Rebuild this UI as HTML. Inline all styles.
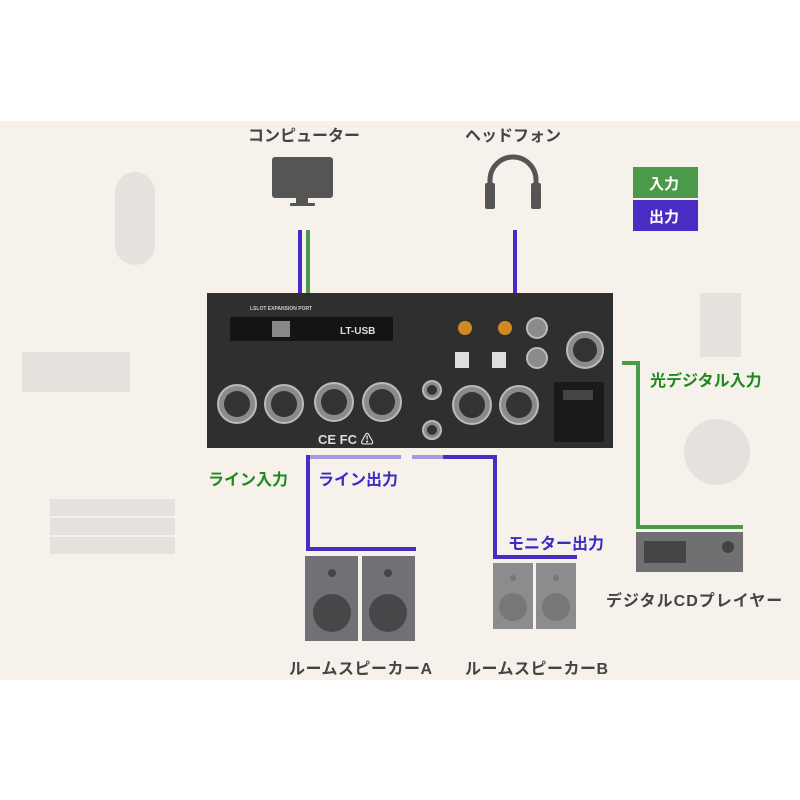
<!DOCTYPE html>
<html><head><meta charset="utf-8"><style>
body{margin:0;width:800px;height:800px;background:#fff;position:relative;overflow:hidden;font-family:"Liberation Sans","Noto Sans CJK JP",sans-serif;font-weight:bold}
.a{position:absolute}
.t{position:absolute;font-size:16px;white-space:nowrap}
</style></head><body>
<div class="a" style="left:0;top:121px;width:800px;height:559px;background:#f7f1ec"></div>
<svg class="a" style="left:0;top:0" width="800" height="800">
<rect x="115" y="172" width="40" height="93" rx="20" fill="#e6e1dd"/>
<rect x="22" y="352" width="108" height="40" fill="#e6e1dd"/>
<rect x="50" y="499" width="125" height="17" fill="#e6e1dd"/>
<rect x="50" y="518" width="125" height="17" fill="#e6e1dd"/>
<rect x="50" y="537" width="125" height="17" fill="#e6e1dd"/>
<rect x="700" y="293" width="41" height="64" fill="#e6e1dd"/>
<circle cx="717" cy="452" r="33" fill="#e6e1dd"/>
<rect x="272" y="157" width="61" height="41" rx="3" fill="#555"/>
<rect x="296" y="198" width="12" height="5" fill="#555"/>
<rect x="290" y="203" width="25" height="3" rx="1" fill="#555"/>
<path d="M490 195 V180 A23 23 0 0 1 536 180 V195" fill="none" stroke="#555" stroke-width="5"/>
<rect x="485" y="183" width="10" height="26" rx="2" fill="#555"/>
<rect x="531" y="183" width="10" height="26" rx="2" fill="#555"/>
<rect x="298" y="230" width="4" height="63" fill="#4a2cc4"/>
<rect x="306" y="230" width="4" height="63" fill="#4a9a4a"/>
<rect x="513" y="230" width="4" height="63" fill="#4a2cc4"/>
<rect x="207" y="293" width="406" height="155" fill="#2f2f30"/>
<rect x="230" y="317" width="163" height="24" fill="#141414"/>
<text x="340" y="334" fill="#ddd" font-size="10" font-family="Liberation Sans">LT-USB</text>
<rect x="272" y="321" width="18" height="16" fill="#888"/>
<text x="250" y="310" fill="#ccc" font-size="5">LSLOT EXPANSION PORT</text>
<g fill="#8b8b8b" stroke="#bbb" stroke-width="2">
<circle cx="237" cy="404" r="19"/><circle cx="284" cy="404" r="19"/>
<circle cx="334" cy="402" r="19"/><circle cx="382" cy="402" r="19"/>
<circle cx="472" cy="405" r="19"/><circle cx="519" cy="405" r="19"/>
<circle cx="585" cy="350" r="18"/>
<circle cx="537" cy="328" r="10"/><circle cx="537" cy="358" r="10"/>
<circle cx="432" cy="390" r="9"/><circle cx="432" cy="430" r="9"/>
</g>
<g fill="#333"><circle cx="237" cy="404" r="13"/><circle cx="284" cy="404" r="13"/><circle cx="334" cy="402" r="13"/><circle cx="382" cy="402" r="13"/><circle cx="472" cy="405" r="13"/><circle cx="519" cy="405" r="13"/><circle cx="585" cy="350" r="12"/><circle cx="432" cy="390" r="5"/><circle cx="432" cy="430" r="5"/></g>
<circle cx="465" cy="328" r="7" fill="#d08a20"/><circle cx="505" cy="328" r="7" fill="#d08a20"/>
<rect x="455" y="352" width="14" height="16" fill="#ddd"/><rect x="492" y="352" width="14" height="16" fill="#ddd"/>
<rect x="554" y="382" width="50" height="60" fill="#1a1a1a"/>
<rect x="563" y="390" width="30" height="10" fill="#444"/>
<text x="318" y="444" fill="#ddd" font-size="13">CE FC ⚠</text>
<rect x="307" y="455" width="94" height="4" fill="#a898e0"/>
<rect x="412" y="455" width="31" height="4" fill="#a898e0"/>
<rect x="443" y="455" width="54" height="4" fill="#4a2cc4"/>
<rect x="306" y="455" width="4" height="96" fill="#4a2cc4"/>
<rect x="306" y="547" width="110" height="4" fill="#4a2cc4"/>
<rect x="493" y="455" width="4" height="104" fill="#4a2cc4"/>
<rect x="493" y="555" width="84" height="4" fill="#4a2cc4"/>
<rect x="622" y="361" width="18" height="4" fill="#4a9a4a"/>
<rect x="636" y="361" width="4" height="168" fill="#4a9a4a"/>
<rect x="636" y="525" width="107" height="4" fill="#4a9a4a"/>
<rect x="305" y="556" width="53" height="85" fill="#707075"/><rect x="362" y="556" width="53" height="85" fill="#707075"/>
<circle cx="332" cy="573" r="4" fill="#444"/><circle cx="388" cy="573" r="4" fill="#444"/>
<circle cx="332" cy="613" r="19" fill="#474749"/><circle cx="388" cy="613" r="19" fill="#474749"/>
<rect x="493" y="563" width="40" height="66" fill="#8c8c8e"/><rect x="536" y="563" width="40" height="66" fill="#8c8c8e"/>
<circle cx="513" cy="578" r="3" fill="#777"/><circle cx="556" cy="578" r="3" fill="#777"/>
<circle cx="513" cy="607" r="14" fill="#777779"/><circle cx="556" cy="607" r="14" fill="#777779"/>
<rect x="636" y="532" width="107" height="40" fill="#707072"/>
<rect x="644" y="541" width="42" height="22" fill="#444"/>
<circle cx="728" cy="547" r="6" fill="#444"/>
<rect x="633" y="167" width="65" height="31" fill="#4a9a4a"/>
<rect x="633" y="200" width="65" height="31" fill="#4a2cc4"/>
</svg>
<div class="t" style="left:248px;top:122px;color:#444">コンピューター</div>
<div class="t" style="left:465px;top:122px;color:#444">ヘッドフォン</div>
<div class="t" style="left:649px;top:173px;color:#fff;font-size:15px">入力</div>
<div class="t" style="left:649px;top:206px;color:#fff;font-size:15px">出力</div>
<div class="t" style="left:208px;top:466px;color:#1e8a1e">ライン入力</div>
<div class="t" style="left:318px;top:466px;color:#3a2cc0">ライン出力</div>
<div class="t" style="left:508px;top:530px;color:#3a2cc0">モニター出力</div>
<div class="t" style="left:650px;top:367px;color:#1e8a1e">光デジタル入力</div>
<div class="t" style="left:606px;top:587px;color:#444;letter-spacing:1px">デジタルCDプレイヤー</div>
<div class="t" style="left:289px;top:655px;color:#444;letter-spacing:0.5px">ルームスピーカーA</div>
<div class="t" style="left:465px;top:655px;color:#444;letter-spacing:0.5px">ルームスピーカーB</div>
</body></html>
